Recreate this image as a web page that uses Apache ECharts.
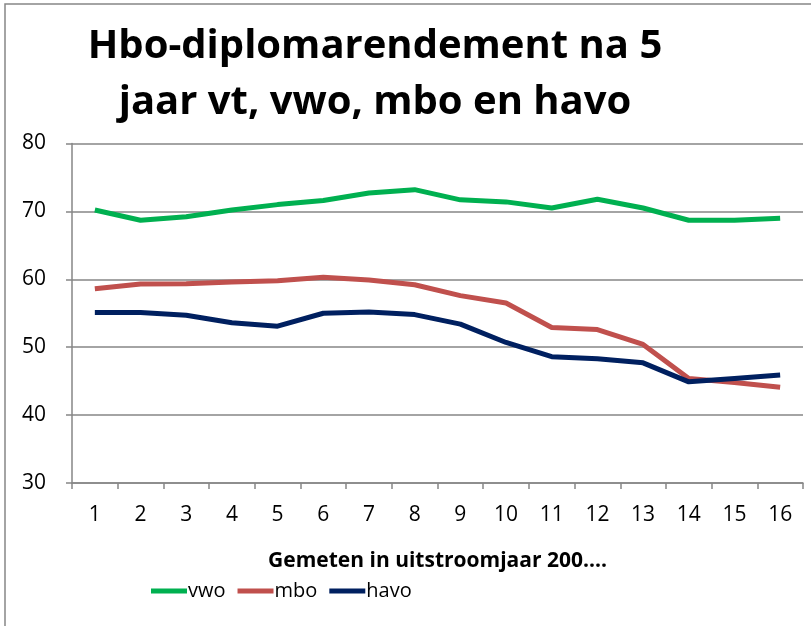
<!DOCTYPE html>
<html>
<head>
<meta charset="utf-8">
<script src="https://cdn.jsdelivr.net/npm/echarts@6/dist/echarts.min.js"></script>
<style>
  html, body { margin: 0; padding: 0; background: #fff; }
  #chart { width: 811px; height: 626px; }
</style>
</head>
<body>
<div id="chart"></div>
<script>
// uitstroomjaar 2001..2016
var categories = ['1','2','3','4','5','6','7','8','9','10','11','12','13','14','15','16'];
var vwo  = [70.2, 68.7, 69.2, 70.2, 71.0, 71.6, 72.7, 73.2, 71.7, 71.4, 70.5, 71.8, 70.5, 68.7, 68.7, 69.0];
var mbo  = [58.6, 59.3, 59.35, 59.6, 59.8, 60.3, 59.9, 59.2, 57.6, 56.5, 52.9, 52.6, 50.4, 45.4, 44.8, 44.1];
var havo = [55.1, 55.1, 54.7, 53.6, 53.1, 55.0, 55.2, 54.8, 53.4, 50.7, 48.6, 48.3, 47.7, 44.9, 45.4, 45.9];
var yTicks = { min: 30, max: 80, interval: 10 };

var font = '"Open Sans", sans-serif';

var myChart = echarts.init(document.getElementById('chart'));

var lineSerie = function(name, data, color){
    return {
        name: name,
        type: 'line',
        data: data,
        symbol: 'none',
        lineStyle: { color: color, width: 5 },
        itemStyle: { color: color }
    };
};

var option = {
    animation: false,
    textStyle: { fontFamily: font },
    title: {
        text: 'Hbo-diplomarendement na 5\njaar vt, vwo, mbo en havo',
        left: 370,
        top: 14,
        textAlign: 'center',
        textStyle: {
            fontFamily: font,
            fontSize: 40,
            fontWeight: 'bold',
            color: '#000',
            lineHeight: 56
        }
    },
    graphic: [{
        type: 'polyline',
        shape: { points: [[5, 630], [5, 4], [815, 4]] },
        style: { stroke: '#868686', lineWidth: 1.5, fill: null }
    }],
    legend: {
        left: 146,
        top: 576,
        itemWidth: 36,
        itemHeight: 5,
        itemGap: 12,
        icon: 'rect',
        textStyle: { fontFamily: font, fontSize: 20, color: '#000', padding: [0, 0, 0, -4] },
        data: ['vwo', 'mbo', 'havo']
    },
    grid: {
        left: 72,
        right: 8,
        top: 143.5,
        bottom: 143
    },
    xAxis: {
        type: 'category',
        boundaryGap: true,
        data: categories,
        name: 'Gemeten in uitstroomjaar 200....',
        nameLocation: 'middle',
        nameGap: 68,
        nameTextStyle: { fontFamily: font, fontSize: 21, fontWeight: 'bold', color: '#000' },
        axisLine: { lineStyle: { color: '#868686', width: 1.5 } },
        axisTick: { show: true, length: 6, lineStyle: { color: '#868686', width: 1.5 } },
        axisLabel: { fontFamily: font, fontSize: 21, color: '#000', margin: 22 }
    },
    yAxis: {
        type: 'value',
        min: yTicks.min,
        max: yTicks.max,
        interval: yTicks.interval,
        axisLine: { show: true, lineStyle: { color: '#868686', width: 1.5 } },
        axisTick: { show: true, length: 6, lineStyle: { color: '#868686', width: 1.5 } },
        axisLabel: { fontFamily: font, fontSize: 21, color: '#000', margin: 26 },
        splitLine: { show: true, lineStyle: { color: '#868686', width: 1.5 } }
    },
    series: [
        lineSerie('vwo', vwo, '#00B050'),
        lineSerie('mbo', mbo, '#C0504D'),
        lineSerie('havo', havo, '#002060')
    ]
};
myChart.setOption(option);
</script>
</body>
</html>
